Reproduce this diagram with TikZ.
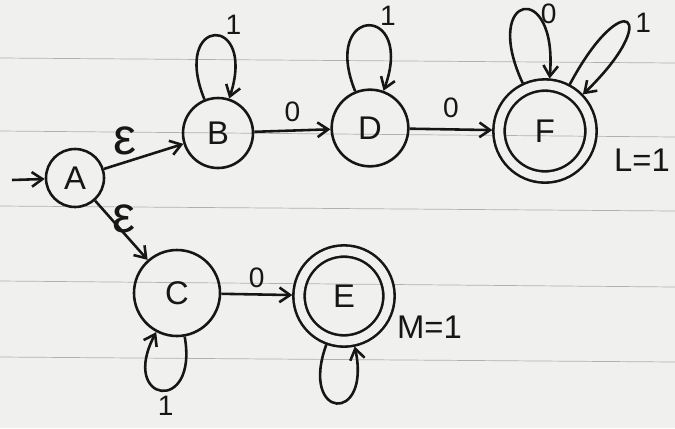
\documentclass[tikz,border=0pt]{standalone}
\usepackage{fontspec}
\setmainfont{Liberation Sans}
\usetikzlibrary{arrows.meta,positioning}
\definecolor{tinta}{HTML}{161616}
\definecolor{papel}{HTML}{F0F0EE}
\definecolor{renglon}{HTML}{8E8E8E}

\begin{document}
\begin{tikzpicture}[x=0.3mm,y=0.3mm,
	estado/.style={circle,draw=tinta,line width=2.2pt,text=tinta,inner sep=0pt,font=\fontsize{28}{29}\selectfont},
	final/.style={estado,double=papel,double distance=2.6mm,outer sep=2mm},
	trans/.style={draw=tinta,line width=2.2pt,-{Straight Barb[length=3.2mm,width=4.4mm,line width=2.2pt]}},
	etiq/.style={text=tinta,font=\fontsize{24}{26}\selectfont},
	eps/.style={text=tinta,font=\fontsize{44}{44}\selectfont}]
	% hoja rayada
	\fill[papel](0,0)rectangle(675,-428);
	\useasboundingbox(0,0)rectangle(675,-428);
	\foreach \ya/\yb in {58/63,131/137,206/211,281/287,357/362}{
		\draw[renglon!70,line width=0.6pt](0,-\ya)--(675,-\yb);
	}
	% estados
	\node[estado,minimum size=17.4mm](A)at(75,-178){A};
	\node[estado,minimum size=21mm](B)at(218,-133){B};
	\node[estado,minimum size=23mm](D)at(370,-128){D};
	\node[final,minimum size=27.6mm](F)at(545,-131){F};
	\node[estado,minimum size=25.8mm](C)at(177,-293){C};
	\node[final,minimum size=27mm](E)at(344,-296){E};
	% transiciones
	\coordinate(ini)at(12,-180);
	\draw[trans](ini)--(A);
	\draw[trans](A)--node[eps,above left=-1mm,pos=0.45]{ε}(B);
	\draw[trans](A)--node[eps,right=-1mm,pos=0.3]{ε}(C);
	\draw[trans](B)--node[etiq,above=1mm]{0}(D);
	\draw[trans](D)--node[etiq,above=2mm]{0}(F);
	\draw[trans](C)--node[etiq,above=0.5mm]{0}(E);
	% lazos
	\draw[trans](B)to[out=112,in=72,distance=27mm]node[etiq,pos=0.6,above right=-1mm]{1}(B);
	\draw[trans](D)to[out=112,in=70,distance=28mm]node[etiq,pos=0.6,above right=-1mm]{1}(D);
	\draw[trans](F)to[out=115,in=85,distance=30mm]node[etiq,pos=0.65,right=0mm]{0}(F);
	\draw[trans](F)to[out=62,in=44,distance=34mm]node[etiq,pos=0.5,right=1mm]{1}(F);
	\draw[trans](C)to[out=-80,in=-118,distance=24mm]node[etiq,pos=0.45,below=0mm]{1}(C);
	\draw[trans](E)to[out=-110,in=-78,distance=24mm](E);
	% salidas
	\node[etiq,anchor=west,font=\fontsize{28}{30}\selectfont](L)at(610,-160){L=1};
	\node[etiq,anchor=west,font=\fontsize{28}{30}\selectfont](M)at(393,-327){M=1};
\end{tikzpicture}
\end{document}
